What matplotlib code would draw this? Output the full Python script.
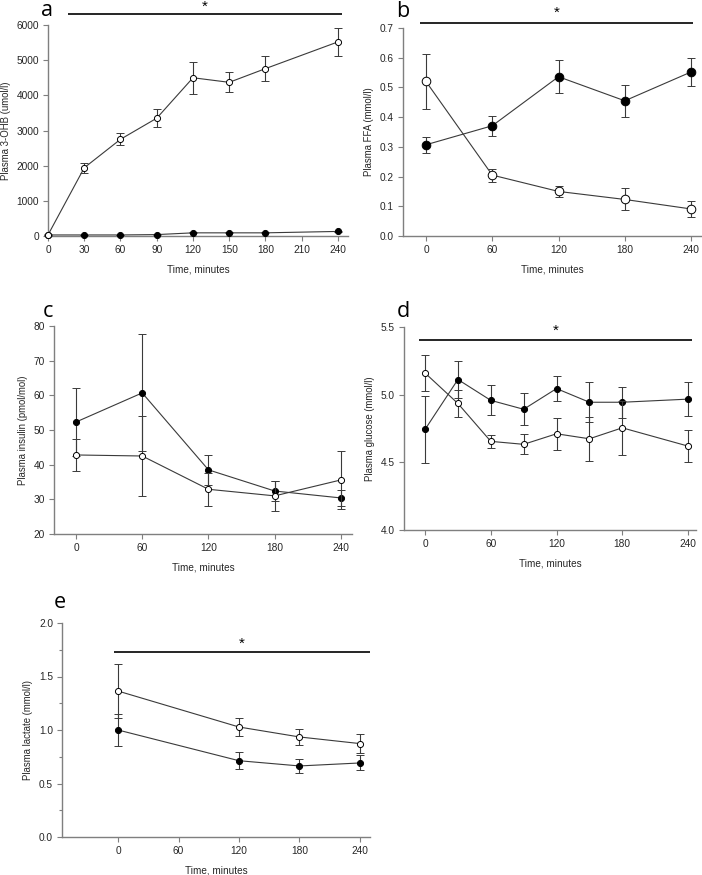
import matplotlib
matplotlib.use("Agg")
import matplotlib.pyplot as plt
from matplotlib.ticker import FormatStrFormatter, MultipleLocator

plt.rcParams['font.family'] = ['Liberation Sans', 'DejaVu Sans']

W, H = 702, 875

# ---------------- data ----------------
# a: Plasma 3-OHB
a_t = [0, 30, 60, 90, 120, 150, 180, 240]
a_open = [30, 1940, 2750, 3350, 4500, 4370, 4760, 5520]
a_open_err = [20, 140, 170, 250, 450, 280, 350, 390]
a_fill = [30, 30, 30, 40, 90, 90, 90, 130]
a_fill_err = [10, 10, 10, 10, 15, 15, 15, 20]
a_ticks = [0, 30, 60, 90, 120, 150, 180, 210, 240]

# b: Plasma FFA
b_t = [0, 60, 120, 180, 240]
b_open = [0.520, 0.205, 0.150, 0.123, 0.091]
b_open_err = [0.094, 0.022, 0.018, 0.037, 0.026]
b_fill = [0.307, 0.371, 0.536, 0.455, 0.552]
b_fill_err = [0.027, 0.034, 0.056, 0.054, 0.048]

# c: Plasma insulin
c_t = [0, 60, 120, 180, 240]
c_open = [42.8, 42.5, 32.9, 31.0, 35.6]
c_open_err = [4.6, 11.5, 4.8, 4.3, 8.4]
c_fill = [52.3, 60.7, 38.5, 32.4, 30.4]
c_fill_err = [9.7, 16.9, 4.3, 3.0, 2.3]

# d: Plasma glucose
d_t = [0, 30, 60, 90, 120, 150, 180, 240]
d_open = [5.160, 4.935, 4.655, 4.633, 4.711, 4.674, 4.755, 4.620]
d_open_err = [0.130, 0.103, 0.048, 0.073, 0.120, 0.162, 0.200, 0.118]
d_fill = [4.743, 5.112, 4.958, 4.892, 5.045, 4.944, 4.944, 4.967]
d_fill_err = [0.246, 0.136, 0.110, 0.117, 0.095, 0.147, 0.113, 0.127]

# e: Plasma lactate
e_t = [0, 120, 180, 240]
e_open = [1.364, 1.028, 0.935, 0.873]
e_open_err = [0.250, 0.085, 0.078, 0.087]
e_fill = [1.000, 0.713, 0.664, 0.692]
e_fill_err = [0.150, 0.078, 0.065, 0.070]

tick5 = [0, 60, 120, 180, 240]

fig = plt.figure(figsize=(W / 100, H / 100), dpi=100)
fig.patch.set_facecolor('white')

GRAY = '#7f7f7f'
TXT = '#262626'


def px_axes(l, r, t, b):
    return fig.add_axes([l / W, 1 - b / H, (r - l) / W, (b - t) / H])


def style(ax, xlim, ylim, xticks, yticks, yfmt=None, ylabel='', minor_y=None):
    for s in ['top', 'right']:
        ax.spines[s].set_visible(False)
    for s in ['left', 'bottom']:
        ax.spines[s].set_color(GRAY)
        ax.spines[s].set_linewidth(1.0)
    ax.set_xlim(*xlim)
    ax.set_ylim(*ylim)
    ax.set_xticks(xticks)
    ax.set_yticks(yticks)
    if yfmt:
        ax.yaxis.set_major_formatter(FormatStrFormatter(yfmt))
    if minor_y:
        ax.yaxis.set_minor_locator(MultipleLocator(minor_y))
        ax.tick_params(axis='y', which='minor', length=2.5, color=GRAY, width=0.8)
    ax.tick_params(axis='both', which='major', direction='out', length=3.5,
                   width=0.8, color=GRAY, labelsize=7.3, labelcolor=TXT, pad=3)
    ax.set_xlabel('Time, minutes', fontsize=7.2, color=TXT, labelpad=7)
    ax.set_ylabel(ylabel, fontsize=6.9, color=TXT, labelpad=4)


def series(ax, t, y, err, filled, ms):
    ax.errorbar(t, y, yerr=err, fmt='-o', color='#3a3a3a', lw=0.8,
                elinewidth=0.8, ecolor='#3a3a3a', capsize=2.6, capthick=0.8,
                ms=ms, mfc='black' if filled else 'white', mec='black',
                mew=0.7, clip_on=False, zorder=3 if filled else 4)


def sig(ax, x0, x1, y, ys):
    ax.plot([x0, x1], [y, y], color='black', lw=1.2, clip_on=False,
            solid_capstyle='butt')
    ax.text((x0 + x1) / 2, ys, '*', ha='center', va='center', fontsize=11,
            color='black', clip_on=False)


def letter(x, y, s):
    fig.text(x / W, 1 - y / H, s, fontsize=15.5, ha='center', va='baseline',
             family=['Open Sans', 'DejaVu Sans'], color='black')


# ---- panel a ----
ax = px_axes(48, 348, 25, 236)
style(ax, (0, 248.3), (0, 6000), a_ticks, range(0, 6001, 1000),
      ylabel='Plasma 3-OHB (umol/l)')
series(ax, a_t, a_fill, a_fill_err, True, 4.4)
series(ax, a_t, a_open, a_open_err, False, 4.4)
sig(ax, 16.5, 243, 6310, 6530)
letter(47, 15.5, 'a')

# ---- panel b ----
ax = px_axes(403, 701, 28, 236)
style(ax, (-20.8, 249), (0, 0.7), tick5, [i / 10 for i in range(8)],
      yfmt='%.1f', ylabel='Plasma FFA (mmol/l)')
series(ax, b_t, b_fill, b_fill_err, True, 6.2)
series(ax, b_t, b_open, b_open_err, False, 6.2)
sig(ax, -5.4, 241.8, 0.717, 0.752)
letter(403, 17, 'b')

# ---- panel c ----
ax = px_axes(54, 352, 326, 534)
style(ax, (-19.9, 250), (20, 80), tick5, range(20, 81, 10),
      ylabel='Plasma insulin (pmol/mol)')
series(ax, c_t, c_fill, c_fill_err, True, 4.4)
series(ax, c_t, c_open, c_open_err, False, 4.4)
letter(48, 317, 'c')

# ---- panel d ----
ax = px_axes(404, 696, 327, 530)
style(ax, (-19.2, 247.3), (4.0, 5.5), tick5, [4.0, 4.5, 5.0, 5.5],
      yfmt='%.1f', ylabel='Plasma glucose (mmol/l)')
series(ax, d_t, d_fill, d_fill_err, True, 4.4)
series(ax, d_t, d_open, d_open_err, False, 4.4)
sig(ax, -5.5, 243.6, 5.404, 5.470)
letter(403, 317, 'd')

# ---- panel e ----
ax = px_axes(62, 370, 623, 837)
style(ax, (-55.6, 250), (0, 2.0), tick5, [0, 0.5, 1.0, 1.5, 2.0],
      yfmt='%.1f', ylabel='Plasma lactate (mmol/l)', minor_y=0.25)
series(ax, e_t, e_fill, e_fill_err, True, 4.4)
series(ax, e_t, e_open, e_open_err, False, 4.4)
sig(ax, -4, 250, 1.729, 1.805)
letter(60, 608, 'e')

fig.savefig('out.png', dpi=100, facecolor='white')
